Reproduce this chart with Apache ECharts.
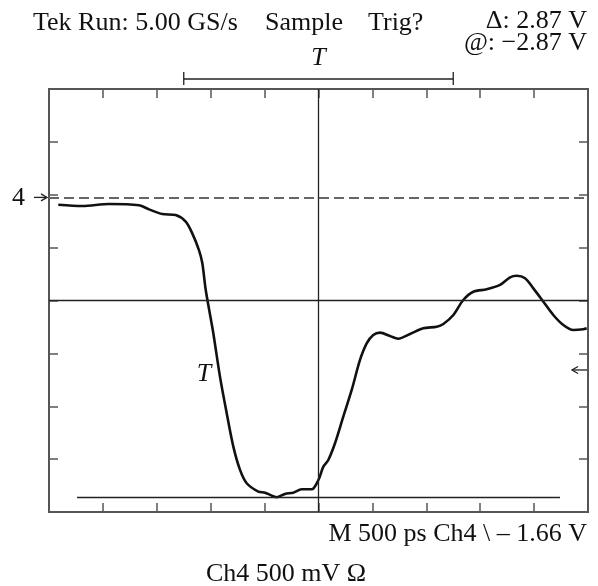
<!DOCTYPE html>
<html><head><meta charset="utf-8">
<script src="https://cdn.jsdelivr.net/npm/echarts@6/dist/echarts.min.js"></script>
<style>html,body{margin:0;padding:0;background:#fff}#c{width:598px;height:586px}</style>
</head><body><div id="c"></div>
<script>
// time axis in ps (500 ps/div, trigger at centre), signal in mV (500 mV/div)
const timePs = [-2414,-2191,-1943,-1665,-1572,-1449,-1325,-1232,-1171,-1109,-1078,-1046,-1000,-976,-914,-852,-790,-728,-666,-558,-496,-450,-388,-311,-234,-156,-63,-2,45,91,153,230,308,385,447,508,571,663,740,849,972,1097,1158,1251,1343,1436,1560,1684,1777,1839,1916,1993,2086,2178,2271,2364,2457,2488];
const signalMv = [905,893,912,900,862,818,808,745,635,477,354,99,-168,-307,-720,-1063,-1382,-1602,-1728,-1807,-1817,-1838,-1860,-1829,-1817,-1785,-1785,-1700,-1571,-1508,-1350,-1098,-846,-562,-405,-326,-304,-336,-361,-317,-263,-248,-222,-137,5,83,106,147,219,234,210,115,-11,-137,-232,-279,-272,-263];
const xTicks = {min:-2500, max:2500, interval:500};
const yTicks = {min:-2000, max:2000, interval:500};
const refLevelMv = 975;
const baselineMv = -1860;
const baselineSpanPs = [-2240, 2240];
const bracketSpanPs = [-1250, 1250];
const rightMarkerMv = -657;

const FONT = '"Liberation Serif", "Times New Roman", serif';
const FS = 26;
const chart = echarts.init(document.getElementById('c'), null, {renderer:'canvas'});
const tickStyle = {show:true, inside:true, length:9, lineStyle:{color:'#555', width:1.5}};
const xBase = {type:'value', min:xTicks.min, max:xTicks.max, interval:xTicks.interval,
  axisLine:{show:false, onZero:false}, axisTick:tickStyle, axisLabel:{show:false}, splitLine:{show:false}};
const yBase = {type:'value', min:yTicks.min, max:yTicks.max, interval:yTicks.interval,
  axisLine:{show:false, onZero:false}, axisTick:tickStyle, axisLabel:{show:false}, splitLine:{show:false}};

chart.setOption({
  animation:false,
  backgroundColor:'#fff',
  grid:{left:49, right:10, top:89, bottom:74, show:true, borderColor:'#555', borderWidth:2, backgroundColor:'transparent'},
  xAxis:[Object.assign({position:'bottom'}, xBase), Object.assign({position:'top'}, xBase)],
  yAxis:[Object.assign({position:'left'}, yBase), Object.assign({position:'right'}, yBase)],
  series:[{
    type:'line', xAxisIndex:0, yAxisIndex:0,
    data: timePs.map((t,i)=>[t, signalMv[i]]),
    showSymbol:false, smooth:0.3,
    lineStyle:{color:'#111', width:2.6},
    markLine:{
      silent:true, symbol:['none','none'], label:{show:false},
      data:[
        {xAxis:0, lineStyle:{color:'#222', width:1.3, type:'solid'}},
        {yAxis:0, lineStyle:{color:'#222', width:1.3, type:'solid'}},
        {yAxis:refLevelMv, lineStyle:{color:'#666', width:2, type:[10,5]}},
        [{coord:[baselineSpanPs[0], baselineMv], lineStyle:{color:'#222', width:1.3, type:'solid'}},
         {coord:[baselineSpanPs[1], baselineMv]}]
      ]
    }
  }]
});

function px(t, v){ return chart.convertToPixel({xAxisIndex:0, yAxisIndex:0}, [t, v]); }
const refPt = px(xTicks.min, refLevelMv);
const bl = px(bracketSpanPs[0], 0), br = px(bracketSpanPs[1], 0);
const rm = px(xTicks.max, rightMarkerMv);
const bracketY = 79;
const txt = (text, x, y, align, size, extra) => ({type:'text', style:{text, x, y,
  font: (extra && extra.italic ? 'italic ' : '') + size + 'px ' + FONT, fill:'#111',
  textAlign:align, textVerticalAlign:'middle'}});
const ln = (x1,y1,x2,y2,w,c) => ({type:'line', shape:{x1,y1,x2,y2}, style:{stroke:c||'#222', lineWidth:w||1.3}});
chart.setOption({graphic:[
  txt('Tek Run: 5.00 GS/s', 33, 23, 'left', FS),
  txt('Sample', 265, 23, 'left', FS),
  txt('Trig?', 368, 23, 'left', FS),
  txt('\u0394: 2.87 V', 587, 21.5, 'right', FS),
  txt('@: \u22122.87 V', 587, 43.5, 'right', FS),
  txt('T', (bl[0]+br[0])/2, 58, 'center', FS, {italic:true}),
  ln(bl[0], bracketY, br[0], bracketY, 1.3),
  ln(bl[0], bracketY-7, bl[0], bracketY+6, 1.3),
  ln(br[0], bracketY-7, br[0], bracketY+6, 1.3),
  txt('4', 12, refPt[1]+1, 'left', FS),
  ln(34, refPt[1], 47, refPt[1], 1.3),
  {type:'polyline', shape:{points:[[41, refPt[1]-3.5],[47, refPt[1]],[41, refPt[1]+3.5]]}, style:{stroke:'#222', lineWidth:1.3, fill:null}},
  ln(rm[0]-16, rm[1], rm[0]-1, rm[1], 1.3),
  {type:'polyline', shape:{points:[[rm[0]-10, rm[1]-3.5],[rm[0]-16, rm[1]],[rm[0]-10, rm[1]+3.5]]}, style:{stroke:'#222', lineWidth:1.3, fill:null}},
  txt('T', 204, 374.5, 'center', FS, {italic:true}),
  txt('M 500 ps Ch4 \\ \u2013 1.66 V', 587, 534.5, 'right', FS),
  txt('Ch4 500 mV \u03A9', 286, 574.5, 'center', FS)
]});
</script></body></html>
